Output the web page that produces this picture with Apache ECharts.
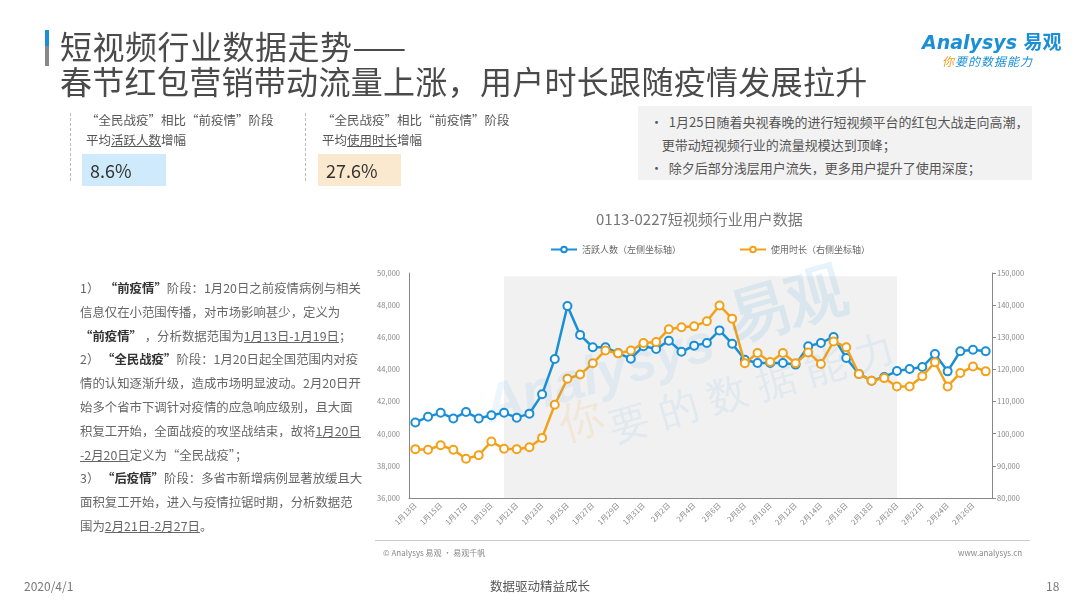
<!DOCTYPE html>
<html>
<head>
<meta charset="utf-8">
<script src="https://cdn.jsdelivr.net/npm/echarts@6/dist/echarts.min.js"></script>
<style>
html,body{margin:0;padding:0;background:#fff;}
body{width:1080px;height:608px;position:relative;overflow:hidden;font-family:"Noto Sans CJK SC","Noto Sans",sans-serif;}
#chart{position:absolute;left:0;top:0;width:1080px;height:608px;}
.t{position:absolute;white-space:nowrap;}
u{text-decoration:underline;}
</style>
</head>
<body>
<div id="chart"></div>
<!-- title -->
<div class="t" style="left:45px;top:30px;width:4px;height:16px;background:#1a8fd6;"></div>
<div class="t" style="left:45px;top:46px;width:4px;height:20px;background:#888;"></div>
<div class="t" style="left:60px;top:28px;font-size:32px;line-height:34px;color:#4a4a4a;letter-spacing:0.5px;">短视频行业数据走势——</div>
<div class="t" style="left:60px;top:62px;font-size:32px;line-height:36px;color:#4a4a4a;letter-spacing:0.3px;">春节红包营销带动流量上涨，用户时长跟随疫情发展拉升</div>
<!-- logo -->
<div class="t" style="left:922px;top:27px;font-size:19px;font-weight:bold;font-style:italic;color:#1a8fd6;font-family:'DejaVu Sans','Noto Sans CJK SC';">Analysys <span style="font-family:'Noto Sans CJK SC';font-style:normal;">易观</span></div>
<div class="t" style="left:942px;top:52px;font-size:12px;font-style:italic;color:#1a8fd6;letter-spacing:1px;"><span style="color:#f39a1e;">你</span>要的数据能力</div>
<!-- stat boxes -->
<div class="t" style="left:70px;top:113px;height:68px;border-left:1px dashed #bbb;"></div>
<div class="t" style="left:86px;top:110px;font-size:12.5px;line-height:20px;color:#555;">“全民战疫”相比“前疫情”阶段<br>平均<u>活跃人数</u>增幅</div>
<div class="t" style="left:82px;top:154px;width:84px;height:32px;background:#cfeafa;"></div>
<div class="t" style="left:90px;top:158px;font-size:18px;line-height:24px;color:#333;">8.6%</div>
<div class="t" style="left:305px;top:113px;height:68px;border-left:1px dashed #bbb;"></div>
<div class="t" style="left:322px;top:110px;font-size:12.5px;line-height:20px;color:#555;">“全民战疫”相比“前疫情”阶段<br>平均<u>使用时长</u>增幅</div>
<div class="t" style="left:318px;top:154px;width:83px;height:32px;background:#fbe9cf;"></div>
<div class="t" style="left:326px;top:158px;font-size:18px;line-height:24px;color:#333;">27.6%</div>
<!-- note box -->
<div class="t" style="left:638px;top:106px;width:394px;height:74px;background:#f2f2f2;"></div>
<div class="t" style="left:650px;top:110px;font-size:13px;line-height:23px;color:#555;">•&nbsp; 1月25日随着央视春晚的进行短视频平台的红包大战走向高潮，<br>&nbsp;&nbsp;&nbsp;&nbsp;更带动短视频行业的流量规模达到顶峰；<br>•&nbsp; 除夕后部分浅层用户流失，更多用户提升了使用深度；</div>
<!-- left text -->
<div class="t" style="left:80px;top:277px;font-size:12.4px;line-height:23.8px;color:#666;">1）&nbsp;&nbsp;<b style="color:#333">“前疫情”</b>阶段：1月20日之前疫情病例与相关<br>信息仅在小范围传播，对市场影响甚少，定义为<br><b style="color:#333">“前疫情”</b>&nbsp;，分析数据范围为<u>1月13日-1月19日</u>；<br>2）&nbsp;<b style="color:#333">“全民战疫”</b>阶段：1月20日起全国范围内对疫<br>情的认知逐渐升级，造成市场明显波动。2月20日开<br>始多个省市下调针对疫情的应急响应级别，且大面<br>积复工开始，全面战疫的攻坚战结束，故将<u>1月20日</u><br><u>-2月20日</u>定义为“全民战疫”；<br>3）&nbsp;<b style="color:#333">“后疫情”</b>阶段：多省市新增病例显著放缓且大<br>面积复工开始，进入与疫情拉锯时期，分析数据范<br>围为<u>2月21日-2月27日</u>。</div>
<!-- chart footer -->
<div class="t" style="left:375px;top:540px;width:655px;height:1px;background:#ccc;"></div>
<div class="t" style="left:383px;top:547px;font-size:8px;color:#888;">© Analysys 易观 · 易观千帆</div>
<div class="t" style="left:958px;top:547px;font-size:8px;color:#888;">www.analysys.cn</div>
<!-- page footer -->
<div class="t" style="left:24px;top:577px;font-size:12px;color:#777;">2020/4/1</div>
<div class="t" style="left:490px;top:576px;font-size:12.5px;color:#555;">数据驱动精益成长</div>
<div class="t" style="left:1046px;top:577px;font-size:12px;color:#777;">18</div>
<script>
var dates = ['1月13日','1月14日','1月15日','1月16日','1月17日','1月18日','1月19日','1月20日','1月21日','1月22日','1月23日','1月24日','1月25日','1月26日','1月27日','1月28日','1月29日','1月30日','1月31日','2月1日','2月2日','2月3日','2月4日','2月5日','2月6日','2月7日','2月8日','2月9日','2月10日','2月11日','2月12日','2月13日','2月14日','2月15日','2月16日','2月17日','2月18日','2月19日','2月20日','2月21日','2月22日','2月23日','2月24日','2月25日','2月26日','2月27日'];
var activeUsers = [40700,41050,41300,40950,41350,40950,41150,41300,41000,41250,42450,44650,47950,46150,45380,45380,45020,44670,45450,45270,45790,45100,45480,45650,46430,45600,44600,44400,44400,44400,44300,45440,45650,46020,44710,43720,43300,43530,43900,44030,44150,44960,43880,45130,45230,45130];
var usageTime = [95200,95000,96400,95000,92200,93300,97600,95300,95200,95800,98700,109000,117100,118400,121900,125900,125000,125900,128200,128500,132500,133100,133400,135000,139900,135800,121900,125100,122300,125100,121900,125300,121700,128700,126900,118600,116500,117300,114700,114700,117900,122200,114700,118900,120900,119400];
var seriesNames = ['活跃人数（左侧坐标轴）','使用时长（右侧坐标轴）'];
var leftTicks = [36000, 50000, 2000];
var rightTicks = [80000, 150000, 10000];
var phaseRange = ['1月20日','2月20日'];

var chart = echarts.init(document.getElementById('chart'));
var fmt = function(v){return v.toLocaleString('en-US');};
chart.setOption({
  animation:false,
  textStyle:{fontFamily:'"Noto Sans CJK SC","Noto Sans",sans-serif'},
  title:{text:'0113-0227短视频行业用户数据',top:207,left:591,
    textStyle:{fontSize:15,fontWeight:'normal',color:'#777'}},
  legend:{top:240,left:545,itemGap:58,itemWidth:26,itemHeight:7,
    textStyle:{fontSize:9,color:'#666'},data:seriesNames},
  grid:{left:409,right:88,top:273,bottom:110},
  graphic:[
    {type:'text',left:478,top:318,rotation:0.28,z:100,silent:true,
      style:{text:'Analysys',fontSize:54,fontWeight:'bold',fontStyle:'italic',fill:'rgba(26,143,214,0.08)'}},
    {type:'text',left:722,top:262,rotation:0.28,z:100,silent:true,
      style:{text:'易观',fontSize:60,fontWeight:'bold',fill:'rgba(26,143,214,0.11)'}},
    {type:'text',left:555,top:395,rotation:0.28,z:100,silent:true,
      style:{text:'你',fontSize:44,fill:'rgba(243,154,30,0.12)'}},
    {type:'text',left:605,top:330,rotation:0.28,z:100,silent:true,
      style:{text:'要 的 数 据 能 力',fontSize:40,fill:'rgba(26,143,214,0.08)'}}
  ],
  xAxis:{type:'category',data:dates,boundaryGap:true,
    axisLine:{lineStyle:{color:'#888',width:1}},axisTick:{show:false},
    axisLabel:{interval:1,rotate:45,fontSize:7.5,color:'#888',margin:6}},
  yAxis:[
    {type:'value',min:leftTicks[0],max:leftTicks[1],interval:leftTicks[2],
     splitLine:{show:false},axisLine:{show:true,lineStyle:{color:'#888'}},axisTick:{show:false},
     axisLabel:{fontSize:7.5,color:'#888',formatter:fmt,margin:9}},
    {type:'value',min:rightTicks[0],max:rightTicks[1],interval:rightTicks[2],position:'right',
     splitLine:{show:false},axisLine:{show:true,lineStyle:{color:'#888'}},
     axisTick:{show:true,length:4,lineStyle:{color:'#888'}},
     axisLabel:{fontSize:7.5,color:'#888',formatter:fmt,margin:5}}
  ],
  series:[
    {name:seriesNames[0],type:'line',yAxisIndex:0,data:activeUsers,
     symbol:'emptyCircle',symbolSize:8,z:3,
     lineStyle:{width:2.5,color:'#1a8fd6'},itemStyle:{color:'#1a8fd6',borderWidth:2},
     markArea:{silent:true,itemStyle:{color:'#f1f1f1',borderRadius:8},
       data:[[{xAxis:phaseRange[0],yAxis:49800},{xAxis:phaseRange[1],yAxis:36000}]]}},
    {name:seriesNames[1],type:'line',yAxisIndex:1,data:usageTime,
     symbol:'emptyCircle',symbolSize:8,z:4,
     lineStyle:{width:2.5,color:'#f4a11a'},itemStyle:{color:'#f4a11a',borderWidth:2}}
  ]
});
</script>
</body>
</html>
